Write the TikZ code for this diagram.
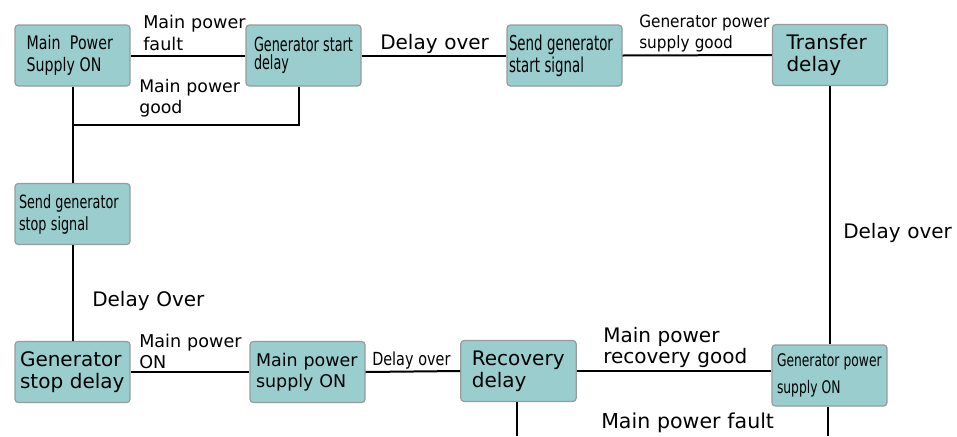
\documentclass[tikz,border=0pt]{standalone}
\usepackage{fontspec}
\usepackage{graphicx}
\setmainfont{DejaVu Sans}
\newcommand{\sq}[2]{\scalebox{#1}[1]{#2}}
\definecolor{boxfill}{RGB}{154,205,205}
\definecolor{boxline}{RGB}{150,155,155}
\tikzset{
  box/.style 2 args={draw=boxline, fill=boxfill, rounded corners=2.5pt, line width=0.9pt,
    minimum width=86.25pt, minimum height=45.75pt, inner ysep=0pt,
    inner xsep=#1, text width=#2, align=left},
  lbl/.style={anchor=base west, inner sep=0pt, align=left, text width=#1},
  conn/.style={line width=1.5pt, black},
  big/.style={font=\fontsize{15}{16.5}\selectfont},
  mid/.style={font=\fontsize{13.2}{16.5}\selectfont},
}
\begin{document}
\begin{tikzpicture}[x=0.75pt, y=-0.75pt]
\useasboundingbox (0,0) rectangle (957,436);
% boxes
\node[box={8.7pt}{68.8pt}, font=\fontsize{14}{16.3}\selectfont] (b1) at (72.5,55.5) {\sq{0.76}{Main~~Power}\\\sq{0.76}{Supply ON}};
\node[box={6pt}{74.25pt}, font=\fontsize{14.6}{13.5}\selectfont] (b2) at (303.5,55.5) {\sq{0.657}{Generator start}\\\sq{0.657}{delay}};
\node[box={1.5pt}{83.25pt}, font=\fontsize{15.4}{16.5}\selectfont] (b3) at (564.5,55.5) {\sq{0.65}{Send generator}\\\sq{0.65}{start signal}};
\node[box={10.5pt}{65.25pt}, big] (b4) at (830,55) {Transfer\\delay};
\node[box={3pt}{80.25pt}, font=\fontsize{13.7}{16.5}\selectfont] (b5) at (72.5,214) {\sq{0.70}{Send generator}\\\sq{0.70}{stop signal}};
\node[box={3.75pt}{78.75pt}, big] (b6) at (72.5,372) {Generator\\stop delay};
\node[box={4.5pt}{77.25pt}, font=\fontsize{13.1}{16}\selectfont] (b7) at (307.5,372) {Main power\\supply ON};
\node[box={8.25pt}{70pt}, big] (b8) at (518.5,371) {Recovery\\delay};
\node[box={3.75pt}{78.75pt}, font=\fontsize{13}{20}\selectfont] (b9) at (829.5,375.5) {\sq{0.71}{Generator power}\\\sq{0.71}{supply ON}};
% free ends and junction
\coordinate (j) at (72.5,125);
\coordinate (e1) at (517,436);
\coordinate (e2) at (828,436);
% connectors
\draw[conn] (b1.east) -- (b2.west);
\draw[conn] (b2.east) -- (b3.west);
\draw[conn] (b3.east) -- (b4.west);
\draw[conn] (b4.south) -- (b4.south |- b9.north);
\draw[conn] (b1.south) -- (b5.north);
\draw[conn] ([xshift=-3.4pt]b2.south) |- (j);
\draw[conn] (b5.south) -- (b6.north);
\draw[conn] (b6.east) -- (b7.west);
\draw[conn] (b7.east) -- (b8.west);
\draw[conn] (b8.east) -- (b8.east -| b9.west);
\draw[conn] (b8.south -| e1) -- (e1);
\draw[conn] (b9.south -| e2) -- (e2);
% labels
\node[lbl=80pt, mid] (l1) at (143,28) {Main power\\fault};
\node[lbl=80pt, font=\fontsize{13}{15.75}\selectfont] (l2) at (139,92.5) {Main power\\good};
\node[lbl=90pt, big] (l3) at (380,49) {Delay over};
\node[lbl=110pt, font=\fontsize{12.75}{15.75}\selectfont] (l4) at (639,27) {\sq{0.9}{Generator power}\\\sq{0.9}{supply good}};
\node[lbl=90pt, big] (l5) at (843,238) {Delay over};
\node[lbl=90pt, big] (l6) at (92,306) {Delay Over};
\node[lbl=80pt, font=\fontsize{13.2}{15.75}\selectfont] (l7) at (139,347) {Main power\\ON};
\node[lbl=70pt, font=\fontsize{13.5}{16}\selectfont] (l8) at (372,365) {\sq{0.8}{Delay over}};
\node[lbl=120pt, font=\fontsize{15}{15.75}\selectfont] (l9) at (603,342) {Main power\\recovery good};
\node[lbl=140pt, font=\fontsize{15.4}{16}\selectfont] (l10) at (601,428) {Main power fault};
\end{tikzpicture}
\end{document}
